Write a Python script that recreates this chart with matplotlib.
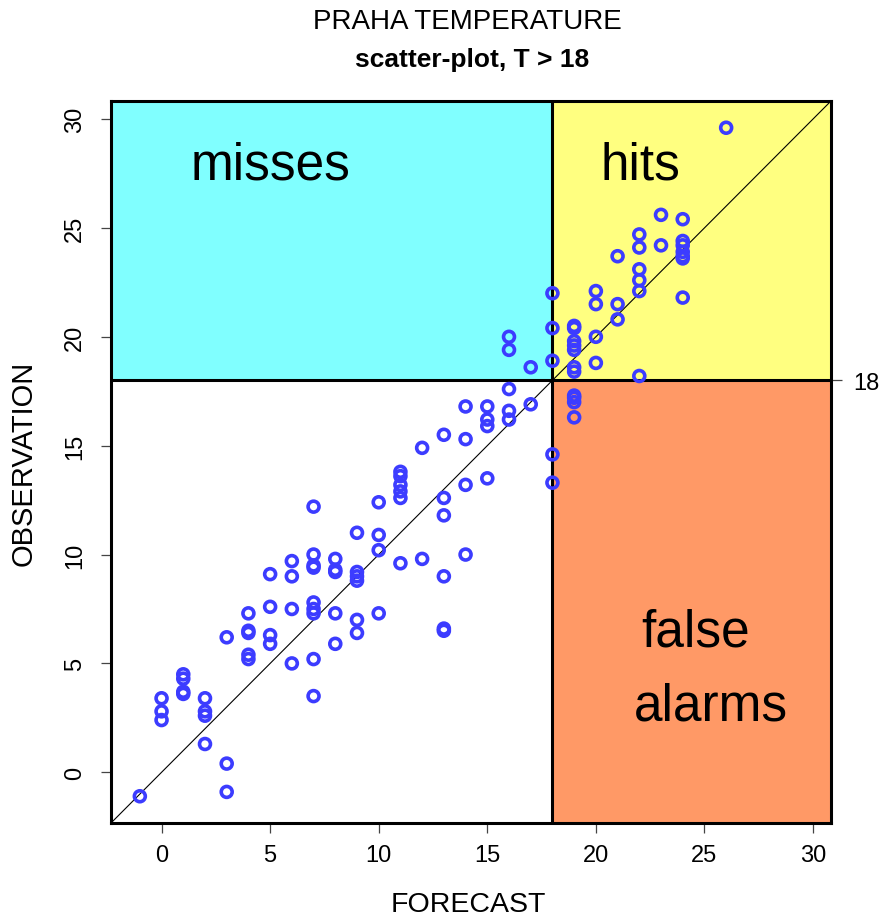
import matplotlib
matplotlib.use("Agg")
import matplotlib.pyplot as plt
from matplotlib.patches import Rectangle

forecast = [
    -1,
    0, 0, 0,
    1, 1, 1, 1,
    2, 2, 2, 2,
    3, 3, 3,
    4, 4, 4, 4, 4,
    5, 5, 5, 5,
    6, 6, 6, 6,
    7, 7, 7, 7, 7, 7, 7, 7, 7,
    8, 8, 8, 8, 8,
    9, 9, 9, 9, 9, 9,
    10, 10, 10, 10,
    11, 11, 11, 11, 11, 11,
    12, 12,
    13, 13, 13, 13, 13, 13,
    14, 14, 14, 14,
    15, 15, 15, 15,
    16, 16, 16, 16, 16,
    17, 17,
    18, 18, 18, 18, 18,
    19, 19, 19, 19, 19, 19, 19, 19, 19, 19, 19,
    20, 20, 20, 20,
    21, 21, 21,
    22, 22, 22, 22, 22, 22,
    23, 23,
    24, 24, 24, 24, 24, 24, 24,
    26,
]
observed = [
    -1.1,
    3.4, 2.8, 2.4,
    4.5, 4.3, 3.7, 3.6,
    3.4, 2.8, 2.6, 1.3,
    6.2, 0.4, -0.9,
    7.3, 6.5, 6.4, 5.4, 5.2,
    9.1, 7.6, 6.3, 5.9,
    9.7, 9.0, 7.5, 5.0,
    12.2, 10.0, 9.5, 9.4, 7.8, 7.5, 7.3, 5.2, 3.5,
    9.8, 9.3, 9.2, 7.3, 5.9,
    11.0, 9.2, 9.0, 8.8, 7.0, 6.4,
    12.4, 10.9, 10.2, 7.3,
    13.8, 13.6, 13.2, 12.9, 12.6, 9.6,
    14.9, 9.8,
    15.5, 12.6, 11.8, 9.0, 6.6, 6.5,
    16.8, 15.3, 13.2, 10.0,
    16.8, 16.2, 15.9, 13.5,
    20.0, 19.4, 17.6, 16.6, 16.2,
    18.6, 16.9,
    22.0, 20.4, 18.9, 14.6, 13.3,
    20.5, 20.4, 19.8, 19.6, 19.4, 18.6, 18.4, 17.3, 17.2, 17.0, 16.3,
    22.1, 21.5, 20.0, 18.8,
    23.7, 21.5, 20.8,
    24.7, 24.1, 23.1, 22.6, 22.1, 18.2,
    25.6, 24.2,
    25.4, 24.4, 24.2, 23.9, 23.7, 23.6, 21.8,
    29.6,
]
threshold = 18
ticks = [0, 5, 10, 15, 20, 25, 30]

plt.rcParams["font.family"] = ["Liberation Sans", "DejaVu Sans"]

# same range for both axes, extended 4% like R does
lo = min(min(forecast), min(observed))
hi = max(max(forecast), max(observed))
pad = 0.04 * (hi - lo)
lo, hi = lo - pad, hi + pad

fig = plt.figure(figsize=(8.88, 9.2), dpi=100)
ax = fig.add_axes([111 / 888, 1 - 824 / 920, 720 / 888, 722 / 920])
ax.set_xlim(lo, hi)
ax.set_ylim(lo, hi)

# contingency regions
ax.add_patch(Rectangle((lo, threshold), threshold - lo, hi - threshold,
                       facecolor="#80ffff", edgecolor="none", zorder=0))
ax.add_patch(Rectangle((threshold, threshold), hi - threshold, hi - threshold,
                       facecolor="#ffff80", edgecolor="none", zorder=0))
ax.add_patch(Rectangle((threshold, lo), hi - threshold, threshold - lo,
                       facecolor="#ff9966", edgecolor="none", zorder=0))

ax.axvline(threshold, color="black", lw=2.2, zorder=1)
ax.axhline(threshold, color="black", lw=2.2, zorder=1)
ax.plot([lo, hi], [lo, hi], color="black", lw=0.8, zorder=1)

ax.scatter(forecast, observed, s=62, facecolors="none", edgecolors="#3c3cff",
           linewidths=2.6, zorder=3)

big = dict(fontsize=37, color="black", zorder=4)
ax.text(5.0, 27.9, "misses", ha="center", va="center", **big)
ax.text(22.05, 27.9, "hits", ha="center", va="center", **big)
ax.text(24.6, (771 - 645) / 21.7, "false", ha="center", va="baseline", **big)
ax.text(25.3, (771 - 718) / 21.7, "alarms", ha="center", va="baseline", **big)

for s in ax.spines.values():
    s.set_linewidth(2.2)
ax.set_xticks(ticks)
ax.set_yticks(ticks)
ax.tick_params(length=7, width=0.9, color="#444444", labelsize=17)
ax.tick_params(axis="x", pad=8)
ax.tick_params(axis="y", pad=11)
for lab in ax.get_yticklabels():
    lab.set_rotation(90)
    lab.set_va("center")

# threshold tick on the right side
sec = ax.secondary_yaxis("right")
sec.set_yticks([threshold])
sec.spines["right"].set_visible(False)
sec.tick_params(length=8, width=0.9, color="#444444", labelsize=17, pad=8)

fig.text(467 / 888, 1 - 22 / 920, "PRAHA TEMPERATURE", ha="center", va="center",
         fontsize=20)
fig.text(472 / 888, 1 - 60 / 920, "scatter-plot, T > 18", ha="center", va="center",
         fontsize=19, fontweight="bold")
fig.text(468 / 888, 1 - 905 / 920, "FORECAST", ha="center", va="center", fontsize=20.5)
fig.text(24 / 888, 1 - 463 / 920, "OBSERVATION", ha="center", va="center",
         rotation=90, fontsize=21)

fig.savefig("out.png", dpi=100)
